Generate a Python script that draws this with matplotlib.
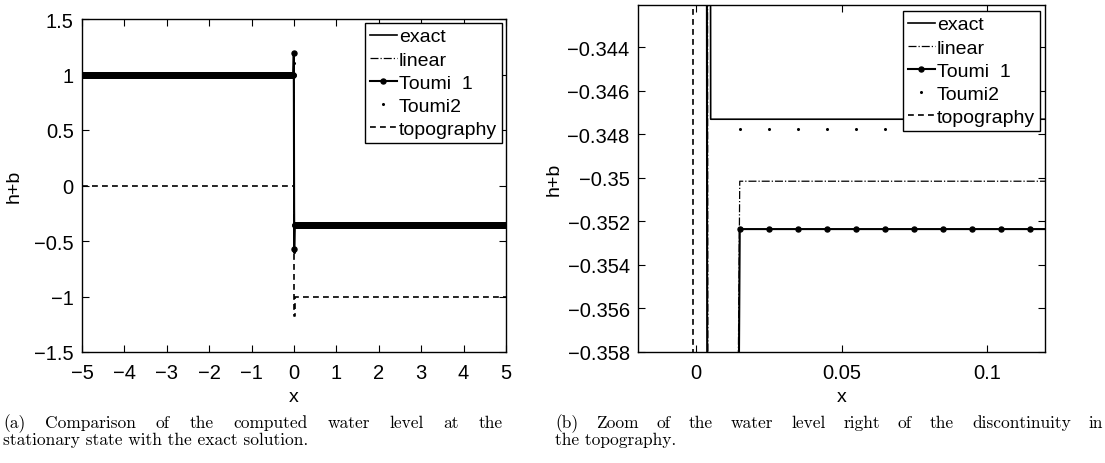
import matplotlib
matplotlib.use("Agg")
import matplotlib.pyplot as plt
import numpy as np

plt.rcParams['font.family'] = ['Liberation Sans', 'DejaVu Sans']
plt.rcParams['font.size'] = 14

# cell centres of the finite volume grid (dx = 0.01 on [-5, 5])
dx = 0.01
x_cells = np.arange(-5 + dx / 2, 5, dx)

# water level left / right of the step and the two cells at the jump
exact_left, exact_right = 1.0, -0.3473
linear_left, linear_jump, linear_right = 1.0, [1.15, -0.52], -0.35015
toumi1_left, toumi1_jump, toumi1_right = 1.0, [1.19, -0.57], -0.35235
toumi2_left, toumi2_jump, toumi2_right = 1.0, [1.10, -0.60], -0.34775

# exact solution and topography as polylines
x_exact = [-5, -0.005, 0.005, 5]
h_exact = [exact_left, exact_left, exact_right, exact_right]
x_topo = [-5, -0.001, -0.001, 0.015, 0.015, 5]
b_topo = [0, 0, -1.18, -1.18, -1, -1]


def cell_values(left, jump, right):
    n_left = np.sum(x_cells < -dx)
    n_right = len(x_cells) - n_left - 2
    return np.concatenate([np.full(n_left, left), jump, np.full(n_right, right)])


h_linear = cell_values(linear_left, linear_jump, linear_right)
h_toumi1 = cell_values(toumi1_left, toumi1_jump, toumi1_right)
h_toumi2 = cell_values(toumi2_left, toumi2_jump, toumi2_right)

W, H = 1105, 464
fig = plt.figure(figsize=(W / 100, H / 100), dpi=100)
ax1 = fig.add_axes([82 / W, 1 - 353 / H, 424 / W, 333 / H])
ax2 = fig.add_axes([638 / W, 1 - 353 / H, 407 / W, 347 / H])


def draw(ax):
    ax.plot(x_exact, h_exact, '-', color='k', lw=1.2, label='exact')
    ax.plot(x_cells, h_linear, '-.', color='k', lw=0.9, label='linear')
    ax.plot(x_cells, h_toumi1, '-', color='k', lw=1.5, marker='o', ms=3.6,
            label='Toumi  1')
    ax.plot(x_cells, h_toumi2, ls='none', color='k', marker='o', ms=1.2,
            label='Toumi2')
    ax.plot(x_topo, b_topo, '--', color='k', lw=1.2, dashes=(3.5, 2.5),
            label='topography')
    ax.tick_params(direction='in', length=5, width=0.8, top=True, right=True,
                   labelsize=14.5)
    ax.tick_params(axis='y', pad=6)
    ax.tick_params(axis='x', pad=8)
    for s in ax.spines.values():
        s.set_linewidth(1.0)
    ax.set_xlabel('x', labelpad=4)
    ax.set_ylabel('h+b')
    leg = ax.legend(loc='upper right', borderaxespad=0, fancybox=False,
                    edgecolor='k', framealpha=1, fontsize=14, handlelength=1.4,
                    handletextpad=0.1, labelspacing=0.28, borderpad=0.25,
                    numpoints=1)
    leg.get_frame().set_linewidth(1.0)
    return leg


l1 = draw(ax1)
ax1.set_xlim(-5, 5)
ax1.set_ylim(-1.5, 1.5)
ax1.set_xticks(np.arange(-5, 6, 1))
ax1.set_yticks([-1.5, -1, -0.5, 0, 0.5, 1, 1.5])
ax1.set_yticklabels(['\u22121.5', '\u22121', '\u22120.5', '0', '0.5', '1', '1.5'])
ax1.set_xticklabels([('\u2212%d' % -v) if v < 0 else '%d' % v for v in range(-5, 6)])
ax1.yaxis.set_label_coords(-0.139, 0.5)
l1.set_bbox_to_anchor(((502 - 82) / 424, 1 - 4 / 333), transform=ax1.transAxes)

l2 = draw(ax2)
ax2.set_xlim(-0.02, 0.12)
ax2.set_ylim(-0.358, -0.34205)
ax2.set_xticks([0, 0.05, 0.1])
ax2.set_xticklabels(['0', '0.05', '0.1'])
yt = [-0.358, -0.356, -0.354, -0.352, -0.35, -0.348, -0.346, -0.344]
ax2.set_yticks(yt)
ax2.set_yticklabels(['\u2212%g' % -v for v in yt])
ax2.yaxis.set_label_coords(-0.184, 0.5)
l2.set_bbox_to_anchor(((1040 - 638) / 407, 1 - 6 / 347), transform=ax2.transAxes)

# captions, justified like the LaTeX source
cap_kw = dict(family='cmr10', fontsize=12.5, va='baseline')
renderer = fig.canvas.get_renderer()


def justified(words, x0, x1, y):
    texts = [fig.text(0, y, w, **cap_kw) for w in words]
    widths = [t.get_window_extent(renderer).width for t in texts]
    gap = (x1 - x0 - sum(widths)) / (len(words) - 1)
    x = x0
    for t, w in zip(texts, widths):
        t.set_x(x / W)
        x += w + gap


justified('(a) Comparison of the computed water level at the'.split(), 3, 503, 1 - 428 / H)
fig.text(3 / W, 1 - 445 / H, 'stationary state with the exact solution.', **cap_kw)
justified('(b) Zoom of the water level right of the discontinuity in'.split(), 555, 1103, 1 - 428 / H)
fig.text(555 / W, 1 - 445 / H, 'the topography.', **cap_kw)

fig.savefig('out.png', dpi=100)
